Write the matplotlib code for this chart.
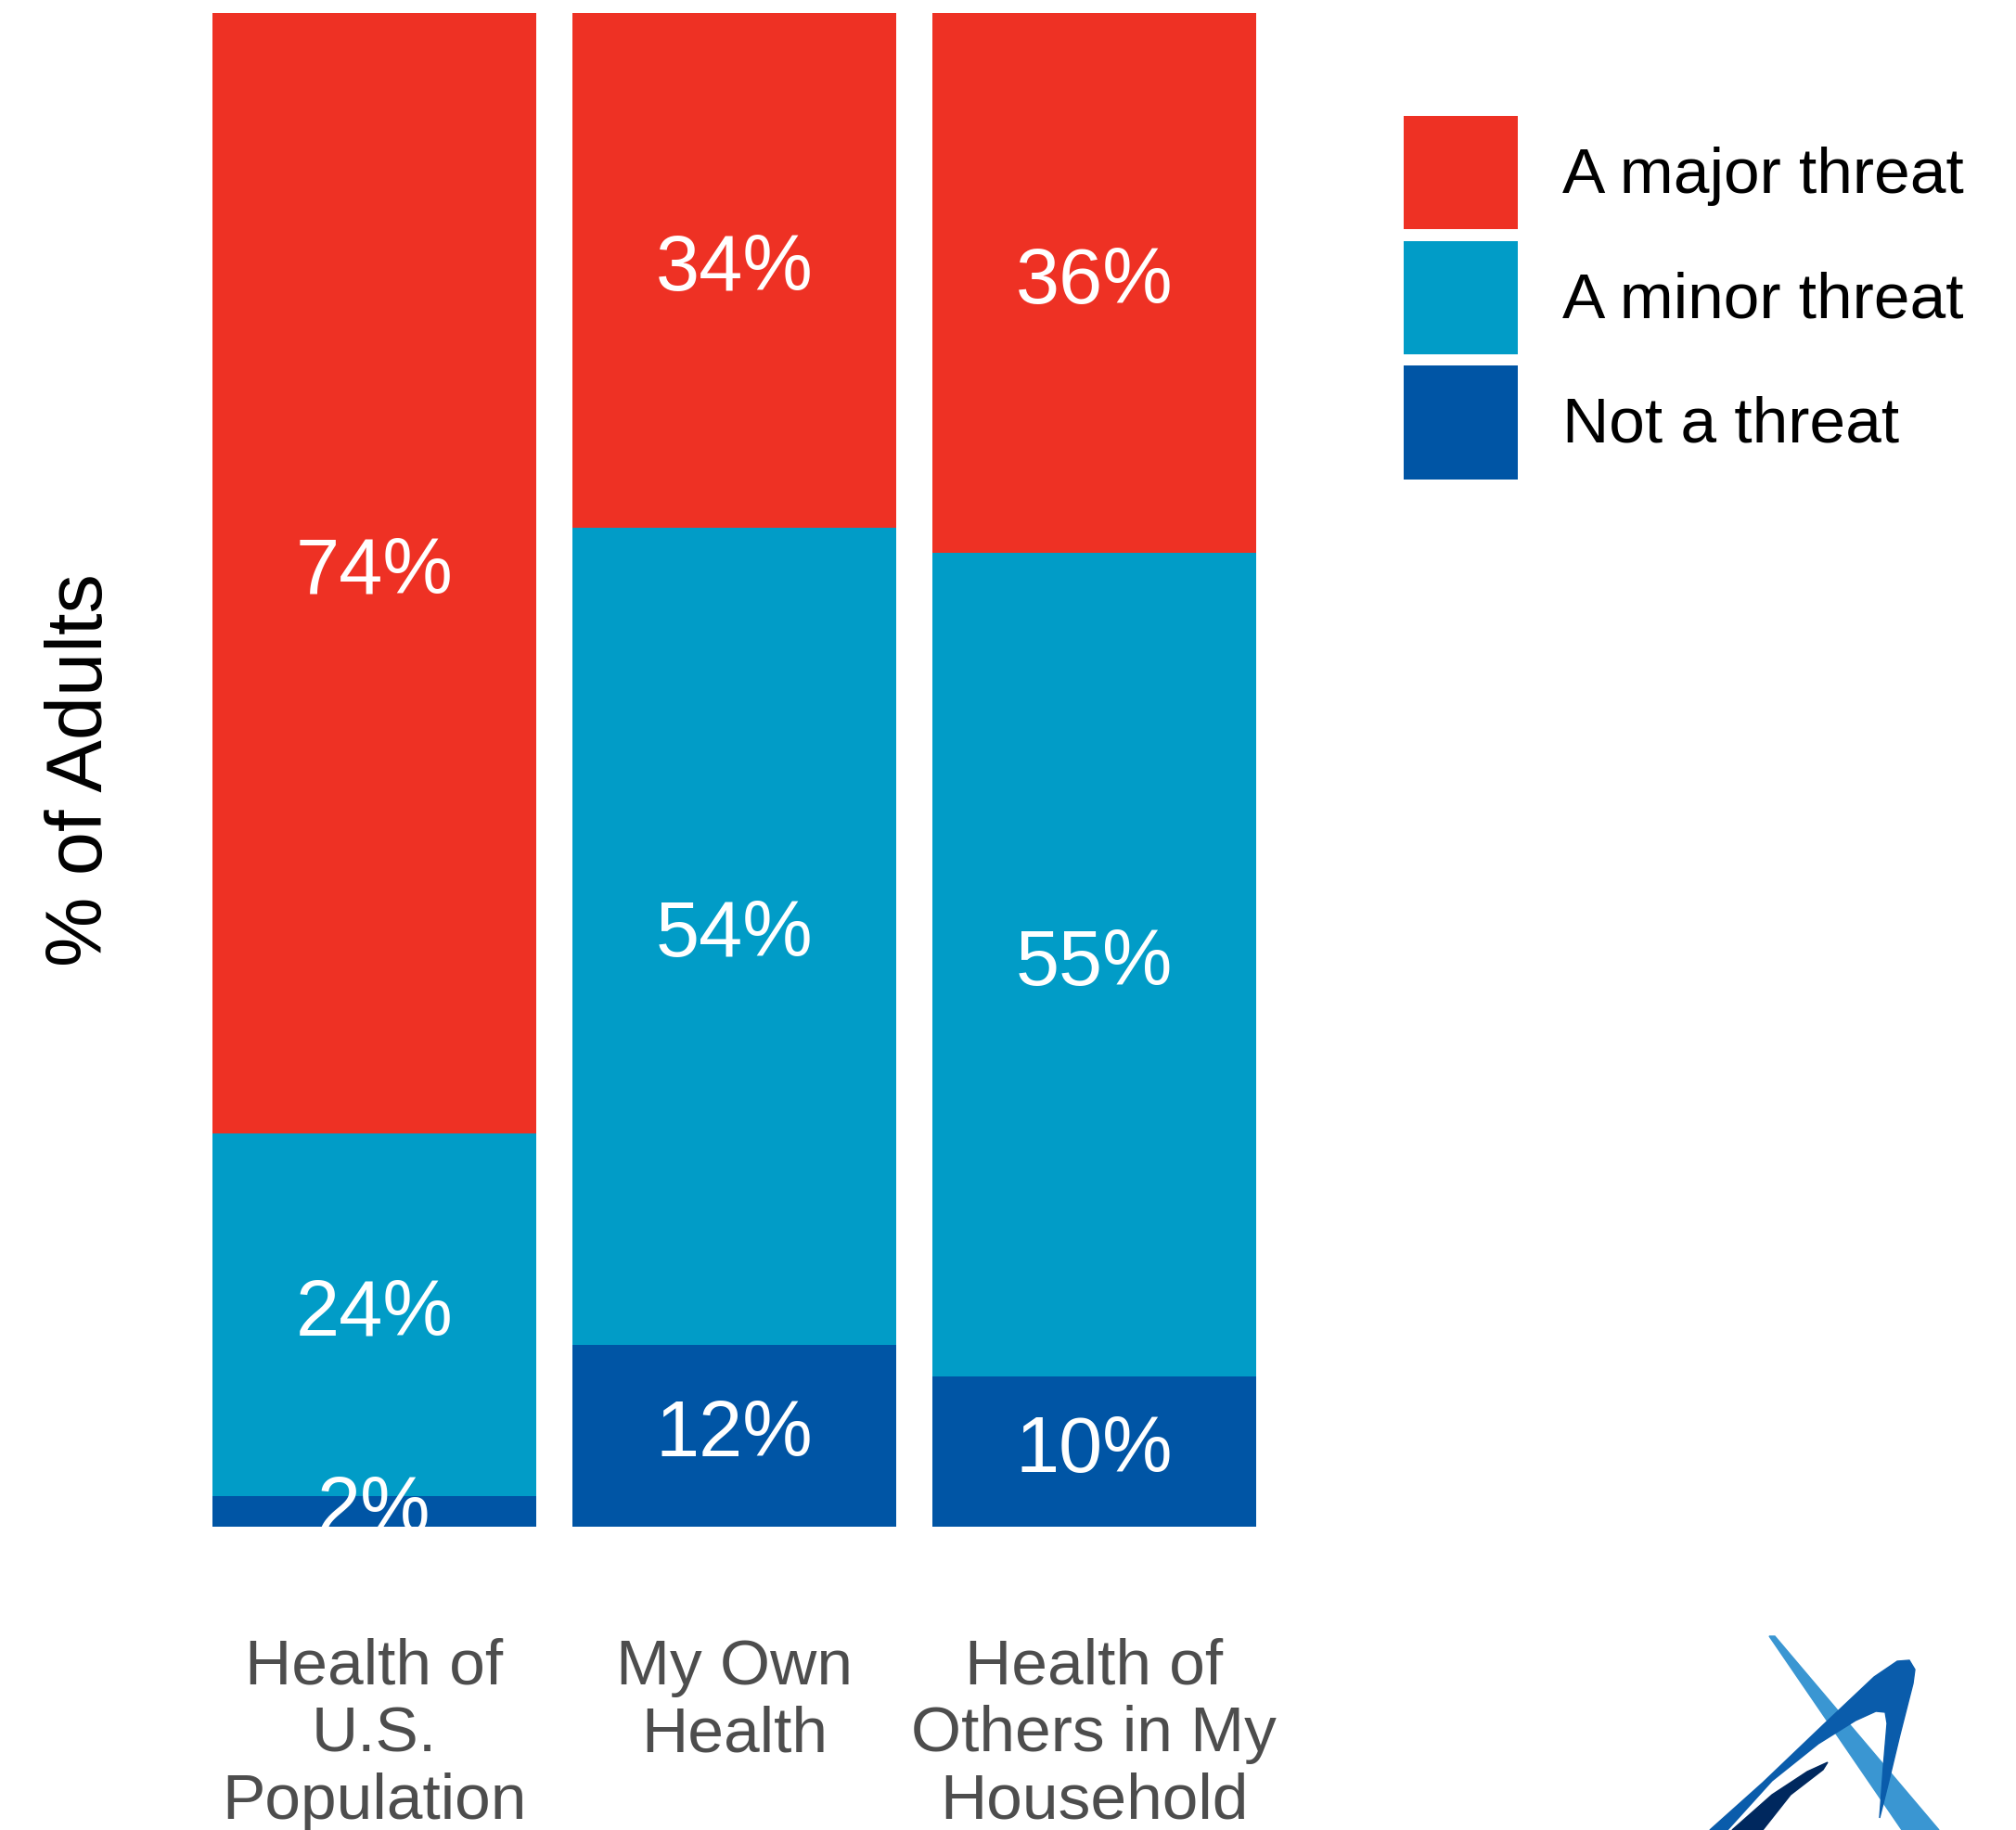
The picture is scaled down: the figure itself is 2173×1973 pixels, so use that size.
import numpy as np
import matplotlib.pyplot as plt
from matplotlib.patches import Polygon

plt.rcParams['font.family'] = ['Liberation Sans', 'DejaVu Sans']

# data
categories = ['Health of\nU.S.\nPopulation', 'My Own\nHealth', 'Health of\nOthers in My\nHousehold']
not_threat = [2, 12, 10]
minor_threat = [24, 54, 55]
major_threat = [74, 34, 36]
series_names = ['A major threat', 'A minor threat', 'Not a threat']
colors = {'A major threat': '#EE3124', 'A minor threat': '#019CC7', 'Not a threat': '#0055A5'}

fig = plt.figure(figsize=(21.73, 19.73), dpi=100)
ax = fig.add_axes([0.0785, 0.1657, 0.5713, 0.8273])

x = np.arange(1, len(categories) + 1)
vals = np.array([not_threat, minor_threat, major_threat], dtype=float)
totals = vals.sum(axis=0)
shares = vals / totals

bottoms = np.zeros(len(categories))
handles = {}
for name, row, raw in zip(['Not a threat', 'A minor threat', 'A major threat'], shares, vals):
    bars = ax.bar(x, row, width=0.9, bottom=bottoms, color=colors[name], label=name)
    handles[name] = bars
    for xi, b, h, r in zip(x, bottoms, row, raw):
        ax.text(xi, b + h / 2, f'{int(r)}%', ha='center', va='center',
                color='white', fontsize=61)
    bottoms += row

ax.set_xlim(0.4, 3.6)
ax.set_ylim(0, 1)
ax.set_xticks(x)
ax.set_xticklabels(categories, fontsize=50, color='#4D4D4D', linespacing=1.17)
ax.tick_params(axis='x', length=0, pad=86)
ax.set_yticks([])
for s in ax.spines.values():
    s.set_visible(False)
ax.set_ylabel('% of Adults', fontsize=61, color='black', labelpad=31)

fs = 50 * 100 / 72
fig.legend([handles[n] for n in series_names], series_names,
           loc='upper left', bbox_to_anchor=(1513 / 2173, 1 - 125 / 1973),
           frameon=False, fontsize=50, handlelength=123 / fs, handleheight=2.33,
           labelspacing=0.18, handletextpad=0.69, borderpad=0, borderaxespad=0)

# logo in the bottom-right corner (decorative)
W, H = 2173, 1973
def fp(pts):
    return [(px / W, 1 - py / H) for px, py in pts]

fig.patches.append(Polygon(fp([(1907, 1764), (1913, 1764), (2090, 1973), (2050, 1973)]),
                           closed=True, color='#3A96D2', transform=fig.transFigure))
fig.patches.append(Polygon(fp([(1843, 1973), (1900, 1922), (1967, 1858), (2020, 1808),
                               (2045, 1791), (2058, 1790), (2064, 1800), (2062, 1815),
                               (2048, 1870), (2036, 1920), (2026, 1960), (2030, 1905),
                               (2034, 1858), (2032, 1846), (2022, 1845), (2000, 1855),
                               (1960, 1880), (1910, 1920), (1862, 1973)]),
                           closed=True, color='#0A5CAB', transform=fig.transFigure))
fig.patches.append(Polygon(fp([(1867, 1973), (1910, 1935), (1948, 1910), (1970, 1900),
                               (1965, 1908), (1930, 1935), (1900, 1973)]),
                           closed=True, color='#00285E', transform=fig.transFigure))

fig.savefig('out.png', dpi=100)
